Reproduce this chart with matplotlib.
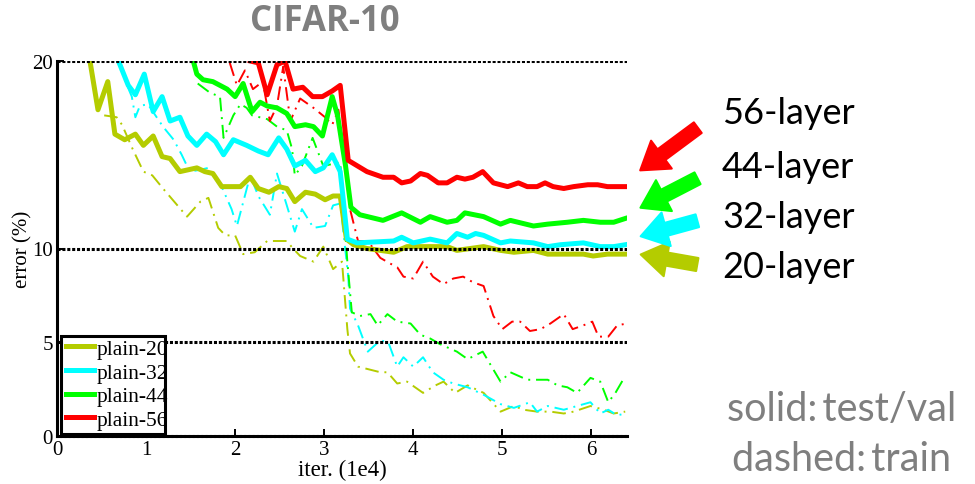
import matplotlib.pyplot as plt
from matplotlib.patches import FancyArrowPatch, Rectangle

# test (solid) curves, iter in 1e4, error in %
iter_20 = [0.37, 0.46, 0.57, 0.65, 0.76, 0.88, 0.97, 1.08, 1.18, 1.27, 1.38, 1.57, 1.66, 1.75, 1.85,
           2.06, 2.17, 2.26, 2.38, 2.49, 2.58, 2.67, 2.79, 2.90, 3.01, 3.10, 3.18, 3.25, 3.33, 3.48,
           3.78, 3.93, 4.23, 4.38, 4.49, 4.79, 4.98, 5.13, 5.35, 5.51, 5.91, 6.02, 6.18, 6.38]
err_20 = [20.0, 17.4, 18.9, 16.1, 15.8, 16.1, 15.5, 16.0, 14.9, 14.8, 14.1, 14.3, 14.1, 14.0, 13.3,
          13.3, 13.8, 13.2, 13.0, 13.3, 13.2, 12.5, 13.0, 12.9, 12.6, 12.8, 12.8, 10.5, 10.2, 10.0,
          9.8, 10.1, 10.1, 10.1, 9.9, 10.1, 9.9, 9.8, 9.9, 9.7, 9.7, 9.6, 9.7, 9.7]

iter_32 = [0.69, 0.80, 0.88, 0.98, 1.08, 1.18, 1.27, 1.38, 1.47, 1.57, 1.68, 1.78, 1.87, 1.98, 2.13,
           2.26, 2.37, 2.49, 2.58, 2.67, 2.79, 2.90, 2.99, 3.09, 3.18, 3.21, 3.26, 3.37, 3.78, 3.87,
           4.00, 4.19, 4.38, 4.49, 4.61, 4.70, 4.79, 4.98, 5.09, 5.35, 5.51, 5.65, 5.91, 6.10, 6.25, 6.38]
err_32 = [20.0, 18.7, 18.2, 19.3, 17.3, 18.1, 16.8, 17.0, 16.0, 15.5, 16.1, 15.7, 15.0, 15.8, 15.5,
          15.2, 15.0, 15.9, 15.3, 14.4, 14.7, 14.1, 14.3, 15.0, 14.1, 12.8, 10.5, 10.3, 10.4, 10.6,
          10.3, 10.5, 10.3, 10.8, 10.6, 10.8, 10.7, 10.3, 10.4, 10.3, 10.1, 10.2, 10.3, 10.1, 10.1, 10.2]

iter_44 = [1.53, 1.57, 1.64, 1.75, 1.91, 2.00, 2.09, 2.19, 2.28, 2.36, 2.47, 2.58, 2.67, 2.79, 2.88,
           2.98, 3.09, 3.15, 3.24, 3.30, 3.40, 3.66, 3.87, 4.08, 4.19, 4.38, 4.49, 4.58, 4.79, 4.98,
           5.09, 5.35, 5.51, 5.73, 5.91, 6.10, 6.25, 6.38]
err_44 = [20.0, 19.3, 19.0, 18.9, 18.5, 18.1, 18.8, 17.3, 17.8, 17.6, 17.5, 17.2, 16.5, 16.6, 16.5,
          16.0, 18.1, 17.1, 14.4, 12.2, 11.8, 11.5, 11.9, 11.4, 11.7, 11.4, 11.5, 11.9, 11.7, 11.3,
          11.5, 11.2, 11.3, 11.4, 11.5, 11.4, 11.4, 11.6]

iter_56 = [2.17, 2.26, 2.36, 2.47, 2.56, 2.65, 2.76, 2.87, 2.98, 3.09, 3.18, 3.27, 3.48, 3.66, 3.78,
           3.87, 3.97, 4.08, 4.16, 4.28, 4.38, 4.49, 4.58, 4.67, 4.78, 4.90, 5.06, 5.18, 5.28, 5.39,
           5.48, 5.57, 5.69, 5.80, 5.96, 6.07, 6.18, 6.38]
err_56 = [20.0, 19.9, 18.2, 19.8, 20.0, 18.5, 18.6, 18.1, 18.1, 18.4, 18.7, 14.7, 14.1, 13.8, 13.8,
          13.5, 13.6, 14.0, 13.9, 13.5, 13.5, 13.8, 13.7, 13.8, 14.1, 13.5, 13.3, 13.5, 13.3, 13.3,
          13.5, 13.3, 13.2, 13.3, 13.4, 13.4, 13.3, 13.3]

# train (dash-dot) curves
iter_20t = [0.53, 0.67, 0.73, 0.85, 0.97, 1.07, 1.19, 1.46, 1.61, 1.70, 1.81, 1.89, 2.00, 2.09, 2.22,
            2.36, 2.49, 2.58, 2.65, 2.73, 2.88, 2.99, 3.10, 3.20, 3.26, 3.29, 3.38, 3.63, 3.71, 3.82,
            3.93, 4.11, 4.25, 4.34, 4.47, 4.61, 4.79, 4.98, 5.13, 5.24, 5.39, 5.54, 5.69, 5.80, 5.99,
            6.14, 6.25, 6.38]
err_20t = [17.1, 17.0, 16.6, 15.3, 14.1, 13.9, 13.2, 11.7, 12.5, 12.7, 11.1, 10.7, 10.7, 9.7, 9.8,
           10.4, 10.4, 10.4, 10.0, 9.6, 9.3, 10.1, 8.9, 9.3, 5.7, 4.4, 3.7, 3.4, 3.4, 2.8,
           2.9, 2.3, 2.7, 2.9, 2.3, 2.7, 2.3, 1.3, 1.6, 1.4, 1.3, 1.3, 1.2, 1.3, 1.6,
           1.4, 1.2, 1.3]

iter_32t = [0.71, 0.76, 0.84, 0.88, 0.93, 1.02, 1.19, 1.31, 1.40, 1.49, 1.61, 1.70, 1.83, 1.96, 2.02,
            2.17, 2.26, 2.39, 2.47, 2.58, 2.67, 2.75, 2.88, 3.01, 3.10, 3.18, 3.27, 3.29, 3.38, 3.49,
            3.63, 3.72, 3.82, 3.89, 4.00, 4.11, 4.22, 4.34, 4.45, 4.61, 4.79, 4.98, 5.13, 5.31, 5.39,
            5.51, 5.69, 5.84, 5.99, 6.10, 6.19, 6.29, 6.38]
err_32t = [20.0, 19.0, 18.1, 17.0, 17.6, 17.7, 16.5, 15.8, 15.0, 14.1, 14.2, 14.3, 13.5, 12.1, 11.2,
           13.9, 12.8, 11.8, 14.0, 12.3, 10.9, 12.1, 11.1, 11.2, 12.3, 12.4, 8.5, 6.8, 5.9, 4.5,
           5.1, 5.0, 3.7, 4.2, 3.7, 4.2, 3.4, 3.0, 2.8, 2.6, 2.2, 1.7, 1.5, 1.8, 1.3,
           1.6, 1.4, 1.6, 1.8, 1.2, 1.4, 1.1, 1.2]

iter_44t = [1.58, 1.72, 1.83, 1.87, 1.98, 2.06, 2.13, 2.19, 2.36, 2.47, 2.58, 2.64, 2.67, 2.75, 2.87,
            2.99, 3.18, 3.21, 3.26, 3.31, 3.40, 3.52, 3.60, 3.71, 3.82, 3.97, 4.08, 4.19, 4.30, 4.49,
            4.61, 4.78, 4.98, 5.09, 5.28, 5.51, 5.62, 5.73, 5.84, 5.99, 6.10, 6.19, 6.27, 6.38]
err_44t = [18.8, 18.3, 18.1, 15.9, 17.1, 17.7, 17.5, 17.1, 16.9, 16.5, 16.3, 15.3, 13.9, 14.4, 15.9,
           14.4, 14.6, 12.6, 9.3, 6.6, 6.4, 6.5, 5.9, 6.5, 6.1, 6.0, 5.4, 5.2, 4.9, 4.5,
           4.1, 4.5, 2.9, 3.4, 3.0, 3.0, 2.7, 2.6, 2.3, 3.1, 2.9, 1.8, 2.3, 3.2]

iter_56t = [1.94, 2.02, 2.11, 2.20, 2.31, 2.39, 2.47, 2.54, 2.62, 2.73, 2.88, 3.01, 3.09, 3.16, 3.26,
            3.29, 3.38, 3.49, 3.63, 3.74, 3.82, 3.89, 4.00, 4.11, 4.22, 4.34, 4.45, 4.56, 4.67, 4.79,
            4.90, 5.00, 5.11, 5.20, 5.31, 5.43, 5.54, 5.69, 5.79, 5.91, 6.01, 6.08, 6.19, 6.29, 6.40]
err_56t = [19.9, 18.7, 19.5, 18.5, 18.9, 16.8, 17.6, 19.7, 16.8, 18.0, 17.5, 17.0, 16.6, 17.4, 13.5,
           12.1, 10.4, 10.4, 9.5, 9.2, 9.0, 8.5, 8.4, 9.3, 8.5, 8.1, 8.4, 8.5, 8.2, 8.0,
           6.4, 5.7, 6.1, 6.1, 5.6, 5.7, 6.0, 6.5, 5.7, 5.9, 6.1, 5.3, 5.3, 5.9, 6.0]

labels = ['plain-20', 'plain-32', 'plain-44', 'plain-56']
colors = ['#b4cc00', '#00ffff', '#00ff00', '#ff0000']
layer_names = ['20-layer', '32-layer', '44-layer', '56-layer']

test_x = [iter_20, iter_32, iter_44, iter_56]
test_y = [err_20, err_32, err_44, err_56]
train_x = [iter_20t, iter_32t, iter_44t, iter_56t]
train_y = [err_20t, err_32t, err_44t, err_56t]

fig = plt.figure(figsize=(9.75, 4.85), dpi=100)
ax = fig.add_axes([57 / 975, 48 / 485, 570 / 975, 375 / 485])

serif = 'Liberation Serif'

for i in range(4):
    ax.plot(train_x[i], train_y[i], color=colors[i], linestyle=(0, (7, 3, 1, 3)), linewidth=1.4, zorder=2)
for i in range(4):
    ax.plot(test_x[i], test_y[i], color=colors[i], linewidth=3.6, label=labels[i],
            solid_joinstyle='round', zorder=3)

for y in [5, 10, 20]:
    ax.axhline(y, color='black', linestyle=(0, (1, 0.6)), linewidth=2.2, zorder=4)

ax.set_xlim(0, 6.4)
ax.set_ylim(0, 20)
ax.set_xticks([0, 1, 2, 3, 4, 5, 6])
ax.set_yticks([0, 5, 10, 20])
ax.tick_params(direction='in', length=5, width=1.4, labelsize=15, pad=3)
for lab in ax.get_xticklabels() + ax.get_yticklabels():
    lab.set_fontfamily(serif)
ax.spines['top'].set_visible(False)
ax.spines['right'].set_visible(False)
ax.spines['left'].set_linewidth(2.2)
ax.spines['bottom'].set_linewidth(2.2)
ax.spines['bottom'].set_linestyle((0, (1, 0.4)))
ax.set_xlabel('iter. (1e4)', fontsize=16.5, family=serif, labelpad=0)
ax.set_ylabel('error (%)', fontsize=15, family=serif, labelpad=0)

# legend without its own frame; the box is drawn separately (text runs past it)
leg = ax.legend(loc='lower left', bbox_to_anchor=(66 / 975, 1 - 431 / 485),
                bbox_transform=fig.transFigure, prop={'family': serif, 'size': 15.5},
                handlelength=1.3, handletextpad=0.1, labelspacing=0.17, borderpad=0.0,
                borderaxespad=0.0, frameon=False)
leg.set_zorder(6)
box = Rectangle((61 / 975, 1 - 435 / 485), 104 / 975, 98 / 485, transform=fig.transFigure,
                facecolor='white', edgecolor='black', linewidth=2.2, zorder=5)
ax.add_artist(box)
box.set_clip_on(False)

fig.text(325 / 975, 1 - 22 / 485, 'CIFAR-10', ha='center', va='center', fontsize=25,
         fontweight='bold', color='#7f7f7f', family='Open Sans')

# layer labels with arrows pointing at the curves
text_y = [267, 218, 168, 113]
tails = [(700, 266), (700, 221), (700, 178), (700, 127)]
tips = [(638, 255), (638, 238), (638, 210), (638, 173)]
for i in range(4):
    fig.text(722 / 975, 1 - text_y[i] / 485, layer_names[i], ha='left', va='center',
             fontsize=26, family='Lato', color='black')
    arr = FancyArrowPatch((tails[i][0] / 975, 1 - tails[i][1] / 485),
                          (tips[i][0] / 975, 1 - tips[i][1] / 485),
                          transform=fig.transFigure,
                          arrowstyle='simple,head_length=1.9,head_width=2.5,tail_width=0.95',
                          mutation_scale=10, color=colors[i], joinstyle='round', capstyle='round',
                          linewidth=1.5)
    fig.patches.append(arr)

fig.text(727 / 975, 1 - 410 / 485, 'solid:\u2009test/val', ha='left', va='center', fontsize=28.5,
         family='Lato', color='#7f7f7f')
fig.text(732 / 975, 1 - 460 / 485, 'dashed:\u2009train', ha='left', va='center', fontsize=28.5,
         family='Lato', color='#7f7f7f')

fig.savefig('out.png', dpi=100)
